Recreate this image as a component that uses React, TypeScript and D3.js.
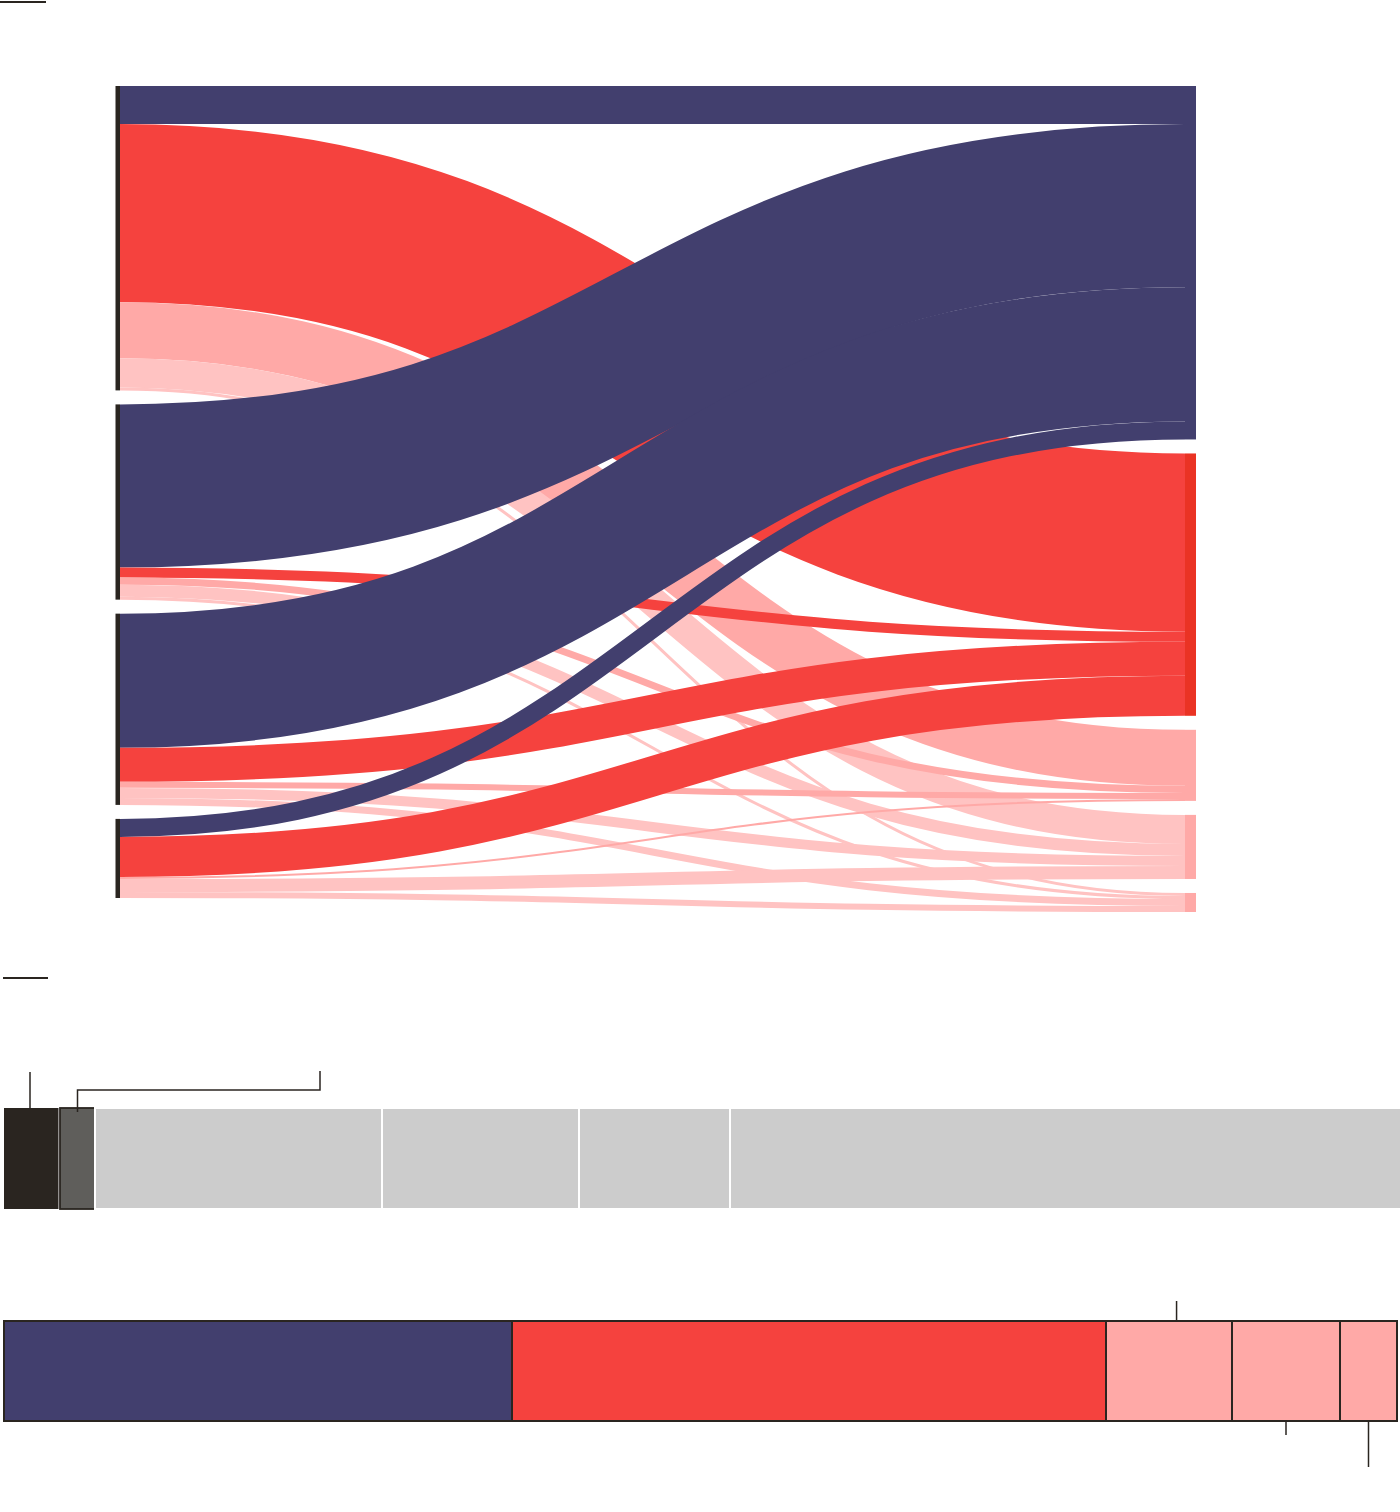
import React, { useEffect, useRef } from 'react';
import * as d3 from 'd3';

// colours
const NAVY = '#423f6e';
const RED = '#f5423e';
const RED_DARK = '#ea3324';
const SALMON = '#ffa9a7';
const PINK = '#ffc3c2';
const DARK = '#2a2520';
const GREY = '#5f5e5b';
const LIGHT = '#cccccc';

// sankey: four sources (left), five targets (right)
const sourceIds = ['s1', 's2', 's3', 's4'];
const targetIds = ['t1', 't2', 't3', 't4', 't5'];
// flows from each source, in target order
const s1Flows = [38, 178, 56, 29, 3];
const s2Flows = [163, 10, 7, 12, 3];
const s3Flows = [134, 34, 6, 10, 7];
const s4Flows = [18, 40, 2, 13, 6];
const targetLinkColors = [NAVY, RED, SALMON, PINK, PINK];
const targetNodeColors = [NAVY, RED_DARK, SALMON, SALMON, SALMON];

// first bar
const barOneValues = [56, 35, 287, 197, 151, 680];
const barOneColors = [DARK, GREY, LIGHT, LIGHT, LIGHT, LIGHT];
// second bar
const barTwoValues = [508, 594, 126, 108, 57];
const barTwoColors = [NAVY, RED, SALMON, SALMON, SALMON];

const App = () => {
  const ref = useRef(null);

  useEffect(() => {
    drawChart();
  }, []);

  const drawChart = () => {
    const svg = d3.select(ref.current);
    svg.selectAll('*').remove();

    const flows = [s1Flows, s2Flows, s3Flows, s4Flows];
    const padding = 14;
    const top = 86;
    const leftX = 120;
    const rightX = 1185;

    const leftTotals = flows.map(r => d3.sum(r));
    const rightTotals = targetIds.map((_, j) => d3.sum(flows, r => r[j]));

    const ky = d3.scaleLinear()
      .domain([0, d3.sum(leftTotals)])
      .range([0, 812 - padding * (sourceIds.length - 1)]);

    // node positions
    const leftY0 = [];
    let y = top;
    leftTotals.forEach(t => { leftY0.push(y); y += ky(t) + padding; });
    const rightY0 = [];
    y = top;
    rightTotals.forEach(t => { rightY0.push(y); y += ky(t) + padding; });

    // link positions
    const links = [];
    const srcOffset = leftY0.slice();
    const tgtOffset = rightY0.slice();
    flows.forEach((row, i) => {
      row.forEach((v, j) => {
        const w = ky(v);
        links.push({ i, j, w, ys: srcOffset[i] + w / 2 });
        srcOffset[i] += w;
      });
    });
    // target side ordered by source
    targetIds.forEach((_, j) => {
      links.filter(l => l.j === j).sort((a, b) => a.i - b.i).forEach(l => {
        l.yt = tgtOffset[j] + l.w / 2;
        tgtOffset[j] += l.w;
      });
    });

    const link = d3.linkHorizontal();

    // short rules
    svg.append('line')
      .attr('x1', 0).attr('x2', 46).attr('y1', 2).attr('y2', 2)
      .attr('stroke', DARK).attr('stroke-width', 2);
    svg.append('line')
      .attr('x1', 3).attr('x2', 48).attr('y1', 978).attr('y2', 978)
      .attr('stroke', DARK).attr('stroke-width', 2);

    // links
    svg.append('g')
      .attr('fill', 'none')
      .selectAll('path')
      .data(links)
      .join('path')
      .attr('d', l => link({ source: [leftX, l.ys], target: [rightX, l.yt] }))
      .attr('stroke', l => targetLinkColors[l.j])
      .attr('stroke-width', l => l.w);

    // left nodes
    svg.append('g')
      .selectAll('rect')
      .data(sourceIds)
      .join('rect')
      .attr('x', leftX - 4.5)
      .attr('y', (_, i) => leftY0[i])
      .attr('width', 4.5)
      .attr('height', (_, i) => ky(leftTotals[i]))
      .attr('fill', DARK);

    // right nodes
    svg.append('g')
      .selectAll('rect')
      .data(targetIds)
      .join('rect')
      .attr('x', rightX)
      .attr('y', (_, j) => rightY0[j])
      .attr('width', 11)
      .attr('height', (_, j) => ky(rightTotals[j]))
      .attr('fill', (_, j) => targetNodeColors[j]);

    // bars
    const kx = d3.scaleLinear()
      .domain([0, d3.sum(barTwoValues)])
      .range([4, 1397]);

    const stack = values => {
      const ends = d3.cumsum(values);
      return values.map((v, k) => ({ x0: kx(ends[k] - v), x1: kx(ends[k]) }));
    };

    // bar one
    const b1 = stack(barOneValues);
    const b1Top = 1108;
    const b1H = 101;
    svg.append('g')
      .selectAll('rect')
      .data(b1)
      .join('rect')
      .attr('x', d => d.x0)
      .attr('y', b1Top)
      .attr('width', (d, k) => d.x1 - d.x0 - (k === 0 ? 1.5 : 0))
      .attr('height', b1H)
      .attr('fill', (_, k) => barOneColors[k])
      .attr('stroke', (_, k) => (k === 0 ? 'none' : k === 1 ? DARK : '#fff'))
      .attr('stroke-width', (_, k) => (k === 1 ? 1.8 : 2));

    // bar one callouts
    const c0 = (b1[0].x0 + b1[0].x1) / 2 - 2;
    const c1 = (b1[1].x0 + b1[1].x1) / 2;
    svg.append('line')
      .attr('x1', c0).attr('x2', c0).attr('y1', 1072).attr('y2', b1Top)
      .attr('stroke', DARK).attr('stroke-width', 1.5);
    svg.append('path')
      .attr('d', `M${c1},${b1Top + 4}V1090H320V1071`)
      .attr('fill', 'none')
      .attr('stroke', DARK).attr('stroke-width', 1.5);

    // bar two
    const b2 = stack(barTwoValues);
    const b2Top = 1321;
    const b2H = 100;
    svg.append('g')
      .selectAll('rect')
      .data(b2)
      .join('rect')
      .attr('x', d => d.x0)
      .attr('y', b2Top)
      .attr('width', d => d.x1 - d.x0)
      .attr('height', b2H)
      .attr('fill', (_, k) => barTwoColors[k])
      .attr('stroke', DARK)
      .attr('stroke-width', 2);

    // bar two ticks
    const mid = k => (b2[k].x0 + b2[k].x1) / 2;
    const t2 = b2[2].x0 + (b2[2].x1 - b2[2].x0) * 0.56;
    svg.append('line')
      .attr('x1', t2).attr('x2', t2).attr('y1', 1301).attr('y2', b2Top)
      .attr('stroke', DARK).attr('stroke-width', 1.5);
    svg.append('line')
      .attr('x1', mid(3)).attr('x2', mid(3)).attr('y1', b2Top + b2H).attr('y2', 1435)
      .attr('stroke', DARK).attr('stroke-width', 1.5);
    svg.append('line')
      .attr('x1', mid(4)).attr('x2', mid(4)).attr('y1', b2Top + b2H).attr('y2', 1467)
      .attr('stroke', DARK).attr('stroke-width', 1.5);
  };

  return (
    <div style={{ position: 'absolute', left: 0, top: 0 }}>
      <svg ref={ref} width={1400} height={1512} style={{ display: 'block' }} />
    </div>
  );
};

export default App;
